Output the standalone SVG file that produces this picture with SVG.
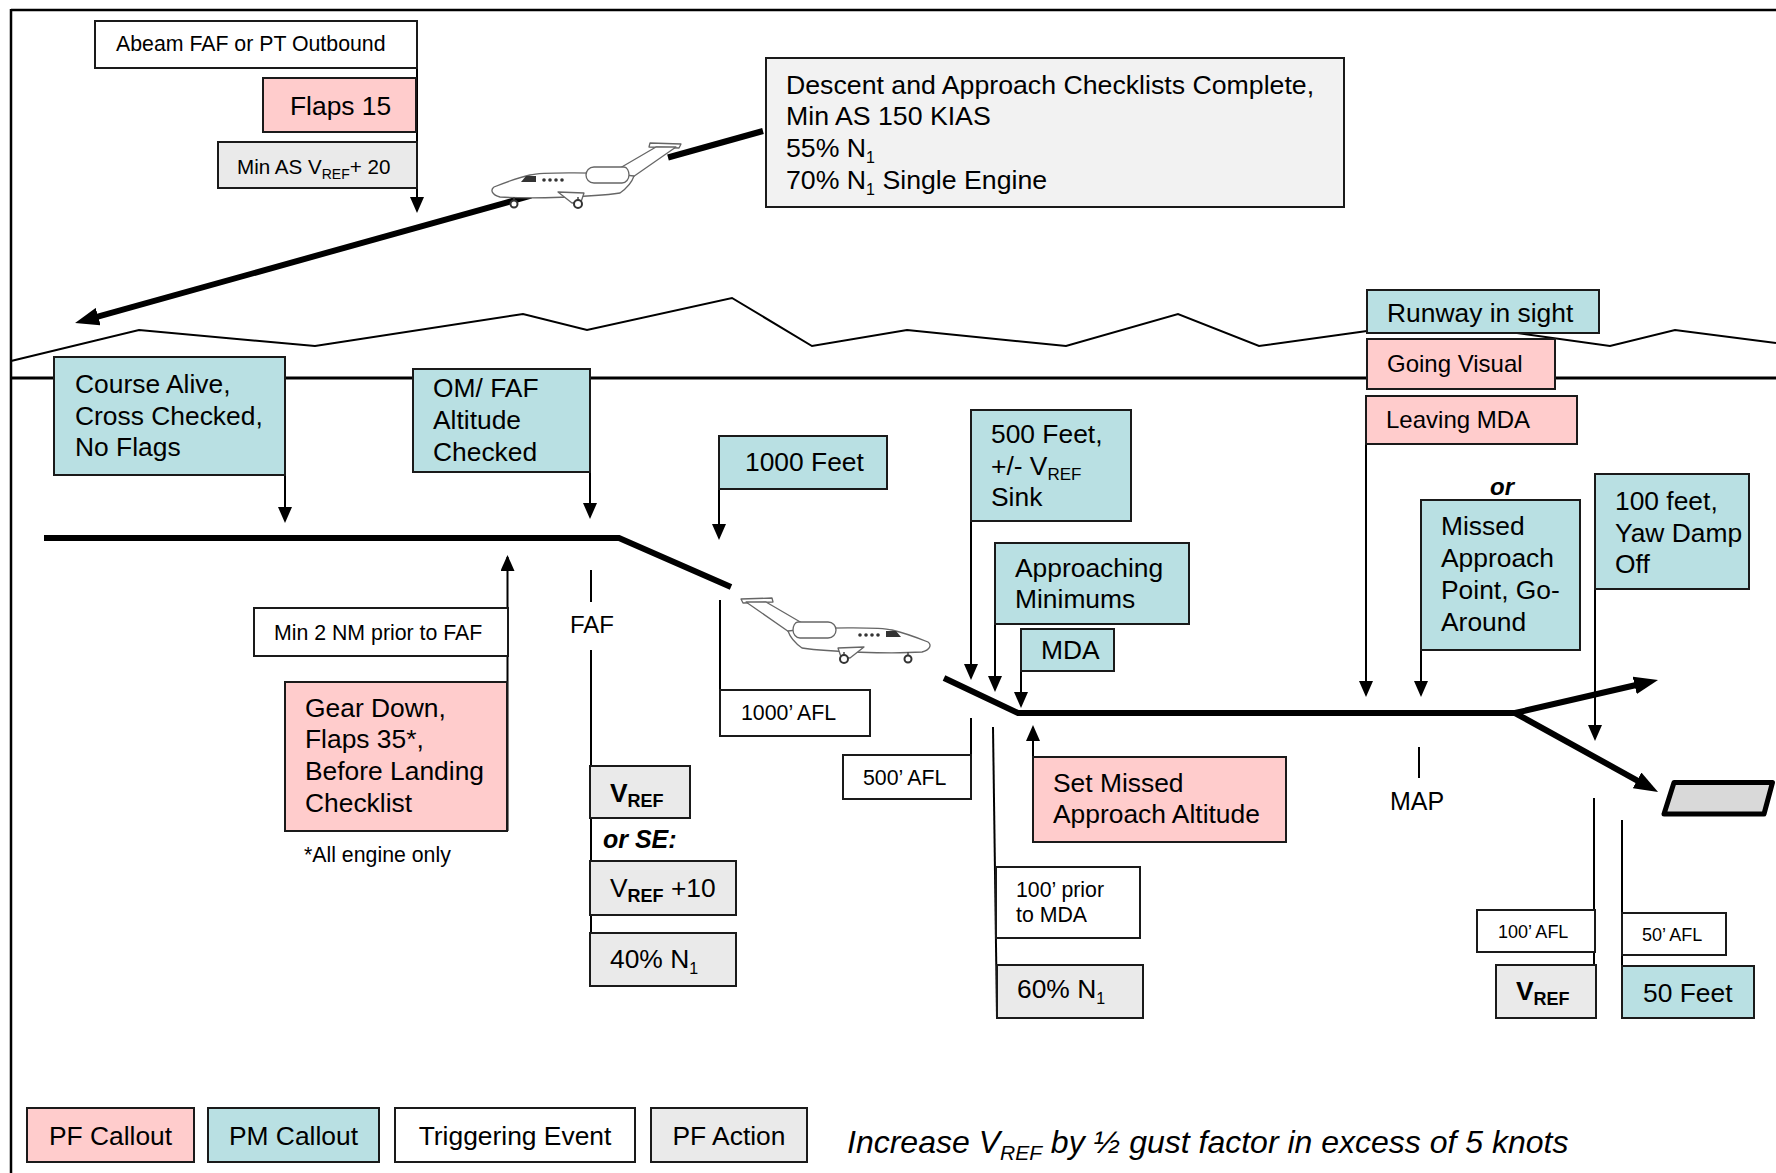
<svg xmlns="http://www.w3.org/2000/svg" width="1776" height="1173" viewBox="0 0 1776 1173">
<style>
.t{font-family:"Liberation Sans",Arial,Helvetica,sans-serif;fill:#000}
.f26{font-size:26.4px}.f24{font-size:24px}.f21{font-size:21.3px}.f20{font-size:20.6px}.f18{font-size:18px}
.b{font-weight:bold}.i{font-style:italic}
.box{stroke:#1a1a1a;stroke-width:2}
.pf{fill:#FFCCCC}.pm{fill:#B9E0E3}.te{fill:#FFFFFF}.ac{fill:#EAEAEA}.ac2{fill:#F2F2F2}
.c{stroke:#000;stroke-width:2;fill:none}
.thick{stroke:#000;stroke-width:6;fill:none}
.plane{fill:#fff;stroke:#666;stroke-width:1.3;stroke-linejoin:round}
</style>
<defs>
<marker id="ah" markerUnits="userSpaceOnUse" viewBox="0 0 16 14" markerWidth="16" markerHeight="14" refX="14" refY="7" orient="auto"><path d="M0,0 L16,7 L0,14 z" fill="#000"/></marker>
<marker id="ahT" markerUnits="userSpaceOnUse" viewBox="0 0 24 18" markerWidth="24" markerHeight="18" refX="6" refY="9" orient="auto"><path d="M0,0 L24,9 L0,18 z" fill="#000"/></marker>
<g id="planeShape">
<path class="plane" d="M1,2 L32,1 L33,5 L3,6 Z"/>
<path class="plane" d="M6,5 L26,5 L74,33 L52,37 Z"/>
<path class="plane" d="M48,34 C80,30 140,30 152,33 C165,36 178,41 188,45 C192,48 190,53 182,55 C150,57 90,55 62,51 C55,46 50,40 48,34 Z"/>
<path class="plane" d="M58,25 L88,25 C93,25 96,29 96,33 C96,37 93,41 88,41 L60,41 C56,41 53,37 53,33 C53,29 55,25 58,25 Z"/>
<path class="plane" d="M98,51 L124,50 L110,61 L101,60 Z"/>
<line x1="104" y1="55" x2="104" y2="60" stroke="#444" stroke-width="1.5"/>
<circle cx="104" cy="62" r="4" fill="#fff" stroke="#333" stroke-width="2"/>
<line x1="168" y1="55" x2="168" y2="60" stroke="#444" stroke-width="1.5"/>
<circle cx="168" cy="62" r="3.5" fill="#fff" stroke="#333" stroke-width="2"/>
<circle cx="120" cy="38" r="1.8" fill="#333"/><circle cx="126" cy="38" r="1.8" fill="#333"/><circle cx="132" cy="38" r="1.8" fill="#333"/><circle cx="138" cy="38" r="1.8" fill="#333"/>
<path d="M146,34 L156,34 L161,40 L146,40 Z" fill="#333"/>
</g>
</defs>

<rect x="0" y="0" width="1776" height="1173" fill="#fff"/>

<g id="frame">
<line x1="11" y1="10" x2="1776" y2="10" stroke="#000" stroke-width="2.5"/>
<line x1="11" y1="9" x2="11" y2="1173" stroke="#000" stroke-width="2.5"/>
</g>

<g id="terrain">
<polyline points="11,361 139,330 315,346 523,314 587,330 732,298 812,346 907,330 1066,346 1178,314 1259,346 1367,331 1470,326 1517,333 1610,346 1675,330 1776,343" fill="none" stroke="#000" stroke-width="2"/>
<line x1="11" y1="378" x2="1776" y2="378" stroke="#000" stroke-width="3"/>
</g>

<g id="flightpath">
<path class="thick" d="M763,131 L668,157.5" stroke-width="5"/>
<path class="thick" d="M531,195.7 L92.4,318.2" stroke-width="5" marker-end="url(#ahT)"/>
<path class="thick" d="M44,538 L619,538 L731,587"/>
<path class="thick" d="M944,678 L1018,713 L1515,713"/>
<path class="thick" d="M1515,713 L1640.5,684" marker-end="url(#ahT)"/>
<path class="thick" d="M1515,713 L1642.3,783.3" marker-end="url(#ahT)"/>
</g>

<g id="runway">
<polygon points="1674,782.5 1772.5,782.5 1764,814 1664,814" fill="#D9D9D9" stroke="#000" stroke-width="5" stroke-linejoin="round"/>
</g>

<g id="plane1"><use href="#planeShape" transform="translate(682,142) scale(-1,1)"/></g>
<g id="plane2"><use href="#planeShape" transform="translate(740,597)"/></g>

<g id="connectors">
<path class="c" d="M417,45 L417,211" marker-end="url(#ah)"/>
<path class="c" d="M285,475 L285,521" marker-end="url(#ah)"/>
<path class="c" d="M590,472 L590,517" marker-end="url(#ah)"/>
<path class="c" d="M719,489 L719,538" marker-end="url(#ah)"/>
<path class="c" d="M507.5,831 L507.5,557" marker-end="url(#ah)"/>
<path class="c" d="M591,570 L591,602"/>
<path class="c" d="M591,650 L591,986"/>
<path class="c" d="M720,600 L720,690"/>
<path class="c" d="M971,521 L971,678" marker-end="url(#ah)"/>
<path class="c" d="M995,624 L995,690" marker-end="url(#ah)"/>
<path class="c" d="M1021,671 L1021,706" marker-end="url(#ah)"/>
<path class="c" d="M971,718 L971,755"/>
<path class="c" d="M993,727 L997,1018"/>
<path class="c" d="M1033,757 L1033,727" marker-end="url(#ah)"/>
<path class="c" d="M1366,444 L1366,695" marker-end="url(#ah)"/>
<path class="c" d="M1421,650 L1421,695" marker-end="url(#ah)"/>
<path class="c" d="M1595,589 L1595,739" marker-end="url(#ah)"/>
<path class="c" d="M1419,747 L1419,778"/>
<path class="c" d="M1594,798 L1594,1018"/>
<path class="c" d="M1622,820 L1622,1018"/>
</g>

<g id="n-abeam"><rect class="box te" x="95" y="21" width="322" height="47"/><text class="t f21" x="116" y="51">Abeam FAF or PT Outbound</text></g>
<g id="n-flaps15"><rect class="box pf" x="263" y="78" width="153" height="54"/><text class="t f26" x="290" y="115">Flaps 15</text></g>
<g id="n-minas"><rect class="box ac" x="218" y="142" width="199" height="46"/><text class="t f20" x="237" y="174">Min AS V<tspan font-size="14" dy="5">REF</tspan><tspan dy="-5">+ 20</tspan></text></g>
<g id="n-descent"><rect class="box ac2" x="766" y="58" width="578" height="149"/>
<text class="t" font-size="26.7" x="786" y="94">Descent and Approach Checklists Complete,</text>
<text class="t" font-size="26.7" x="786" y="125">Min AS 150 KIAS</text>
<text class="t" font-size="26.7" x="786" y="157">55% N<tspan font-size="16" dy="6">1</tspan></text>
<text class="t" font-size="26.7" x="786" y="189">70% N<tspan font-size="16" dy="6">1</tspan><tspan dy="-6"> Single Engine</tspan></text></g>

<g id="n-course"><rect class="box pm" x="54" y="357" width="231" height="118"/>
<text class="t f26" x="75" y="393">Course Alive,</text><text class="t f26" x="75" y="425">Cross Checked,</text><text class="t f26" x="75" y="456">No Flags</text></g>
<g id="n-omfaf"><rect class="box pm" x="413" y="369" width="177" height="103"/>
<text class="t f26" x="433" y="397">OM/ FAF</text><text class="t f26" x="433" y="429">Altitude</text><text class="t f26" x="433" y="461">Checked</text></g>
<g id="n-min2nm"><rect class="box te" x="254" y="608" width="254" height="48"/><text class="t f21" x="274" y="640">Min 2 NM prior to FAF</text></g>
<g id="n-gear"><rect class="box pf" x="285" y="682" width="222" height="149"/>
<text class="t f26" x="305" y="717">Gear Down,</text><text class="t f26" x="305" y="748">Flaps 35*,</text><text class="t f26" x="305" y="780">Before Landing</text><text class="t f26" x="305" y="812">Checklist</text></g>
<g id="n-allengine"><text class="t f21" x="304" y="862">*All engine only</text></g>
<g id="n-faf"><text class="t f24" x="592" y="633" text-anchor="middle">FAF</text></g>
<g id="n-vref1"><rect class="box ac" x="590" y="766" width="100" height="52"/><text class="t f26 b" x="610" y="802">V<tspan font-size="18" dy="5">REF</tspan></text></g>
<g id="n-orse"><text class="t b i" font-size="25" x="603" y="848">or SE:</text></g>
<g id="n-vref10"><rect class="box ac" x="590" y="861" width="146" height="54"/><text class="t f26" x="610" y="897">V<tspan font-size="18" font-weight="bold" dy="5">REF</tspan><tspan dy="-5"> +10</tspan></text></g>
<g id="n-40n1"><rect class="box ac" x="590" y="933" width="146" height="53"/><text class="t f26" x="610" y="968">40% N<tspan font-size="16" dy="6">1</tspan></text></g>

<g id="n-1000feet"><rect class="box pm" x="719" y="436" width="168" height="53"/><text class="t f26" x="745" y="471">1000 Feet</text></g>
<g id="n-1000afl"><rect class="box te" x="720" y="690" width="150" height="46"/><text class="t f21" x="741" y="720">1000’ AFL</text></g>
<g id="n-500feet"><rect class="box pm" x="971" y="410" width="160" height="111"/>
<text class="t f26" x="991" y="443">500 Feet,</text><text class="t f26" x="991" y="475">+/- V<tspan font-size="17" dy="5">REF</tspan></text><text class="t f26" x="991" y="506">Sink</text></g>
<g id="n-approaching"><rect class="box pm" x="995" y="543" width="194" height="81"/>
<text class="t f26" x="1015" y="577">Approaching</text><text class="t f26" x="1015" y="608">Minimums</text></g>
<g id="n-mda"><rect class="box pm" x="1021" y="629" width="93" height="42"/><text class="t f26" x="1041" y="659">MDA</text></g>
<g id="n-500afl"><rect class="box te" x="843" y="755" width="128" height="44"/><text class="t f21" x="863" y="785">500’ AFL</text></g>
<g id="n-100prior"><rect class="box te" x="996" y="867" width="144" height="71"/>
<text class="t f21" x="1016" y="897">100’ prior</text><text class="t f21" x="1016" y="922">to MDA</text></g>
<g id="n-60n1"><rect class="box ac" x="997" y="965" width="146" height="53"/><text class="t f26" x="1017" y="998">60% N<tspan font-size="16" dy="6">1</tspan></text></g>
<g id="n-setmissed"><rect class="box pf" x="1033" y="757" width="253" height="85"/>
<text class="t f26" x="1053" y="792">Set Missed</text><text class="t f26" x="1053" y="823">Approach Altitude</text></g>

<g id="n-runway"><rect class="box pm" x="1367" y="290" width="232" height="43"/><text class="t f26" x="1387" y="322">Runway in sight</text></g>
<g id="n-goingvisual"><rect class="box pf" x="1367" y="339" width="188" height="50"/><text class="t f24" x="1387" y="372">Going Visual</text></g>
<g id="n-leavingmda"><rect class="box pf" x="1366" y="396" width="211" height="48"/><text class="t f24" x="1386" y="428">Leaving MDA</text></g>
<g id="n-or"><text class="t f24 b i" x="1502" y="495" text-anchor="middle">or</text></g>
<g id="n-missed"><rect class="box pm" x="1421" y="500" width="159" height="150"/>
<text class="t f26" x="1441" y="535">Missed</text><text class="t f26" x="1441" y="567">Approach</text><text class="t f26" x="1441" y="599">Point, Go-</text><text class="t f26" x="1441" y="631">Around</text></g>
<g id="n-100feet"><rect class="box pm" x="1595" y="474" width="154" height="115"/>
<text class="t f26" x="1615" y="510">100 feet,</text><text class="t f26" x="1615" y="542">Yaw Damp</text><text class="t f26" x="1615" y="573">Off</text></g>
<g id="n-map"><text class="t" font-size="25" x="1417" y="810" text-anchor="middle">MAP</text></g>
<g id="n-100afl"><rect class="box te" x="1477" y="910" width="118" height="42"/><text class="t f18" x="1498" y="938">100’ AFL</text></g>
<g id="n-vref2"><rect class="box ac" x="1496" y="965" width="100" height="53"/><text class="t f26 b" x="1516" y="1000">V<tspan font-size="18" dy="5">REF</tspan></text></g>
<g id="n-50afl"><rect class="box te" x="1622" y="913" width="104" height="42"/><text class="t f18" x="1642" y="941">50’ AFL</text></g>
<g id="n-50feet"><rect class="box pm" x="1622" y="966" width="132" height="52"/><text class="t f26" x="1643" y="1002">50 Feet</text></g>

<g id="legend">
<g id="lg-pf"><rect class="box pf" x="27" y="1108" width="167" height="54"/><text class="t f26" x="110.5" y="1145" text-anchor="middle">PF Callout</text></g>
<g id="lg-pm"><rect class="box pm" x="208" y="1108" width="171" height="54"/><text class="t f26" x="293.5" y="1145" text-anchor="middle">PM Callout</text></g>
<g id="lg-te"><rect class="box te" x="395" y="1108" width="240" height="54"/><text class="t f26" x="515" y="1145" text-anchor="middle">Triggering Event</text></g>
<g id="lg-pa"><rect class="box ac" x="651" y="1108" width="156" height="54"/><text class="t f26" x="729" y="1145" text-anchor="middle">PF Action</text></g>
</g>
<g id="note"><text class="t i" font-size="32" x="847" y="1153">Increase V<tspan font-size="21" dy="7">REF</tspan><tspan dy="-7"> by ½ gust factor in excess of 5 knots</tspan></text></g>
</svg>
